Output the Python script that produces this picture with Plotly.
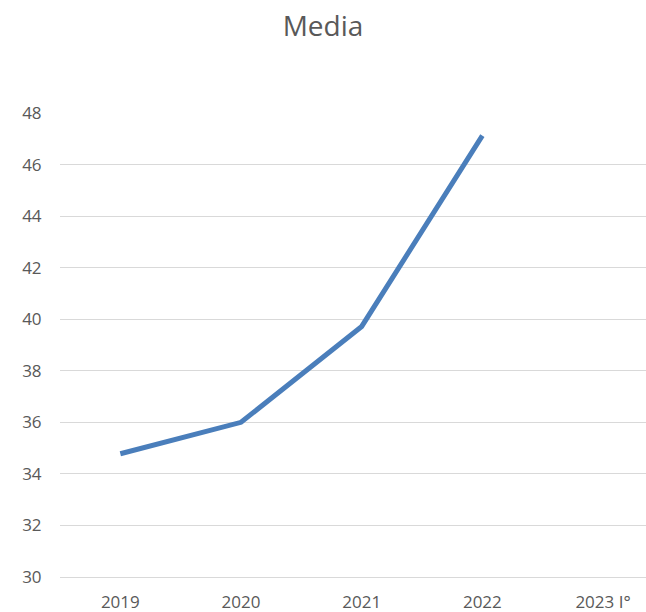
import plotly.graph_objects as go

categories = ["2019", "2020", "2021", "2022", "2023 I°"]
media_values = [34.78, 36.0, 39.72, 47.12, None]
y_ticks = [30, 32, 34, 36, 38, 40, 42, 44, 46, 48]

fig = go.Figure()
fig.add_trace(go.Scatter(
    x=categories, y=media_values, mode="lines",
    line=dict(color="#4a7ebb", width=5),
    connectgaps=False, hoverinfo="skip",
))

fig.update_layout(
    width=646, height=612,
    margin=dict(l=60, r=0, t=113, b=35),
    paper_bgcolor="white", plot_bgcolor="white",
    showlegend=False,
    font=dict(family="Open Sans", color="#595959", size=17),
    title=dict(text="Media", x=0.5, xanchor="center", xref="container",
               y=0.958, yanchor="middle", yref="container",
               font=dict(size=28, color="#595959", family="Open Sans")),
    xaxis=dict(
        type="category", categoryorder="array", categoryarray=categories,
        range=[-0.5, 4.356], automargin=False,
        showgrid=False, showline=True, linecolor="#d9d9d9", linewidth=1,
        ticks="outside", ticklen=10, tickcolor="rgba(0,0,0,0)",
        tickfont=dict(size=17, color="#595959"),
    ),
    yaxis=dict(
        range=[30, 48], tickvals=y_ticks, automargin=False,
        showgrid=True, gridcolor="#d9d9d9", gridwidth=1,
        zeroline=False, showline=False,
        ticks="outside", ticklen=14, tickcolor="rgba(0,0,0,0)",
        tickfont=dict(size=17, color="#595959"),
    ),
)

fig.write_html(
    "out.html",
    config={"displayModeBar": False, "staticPlot": True},
    post_script="document.body.style.margin='0';document.body.style.overflow='hidden';",
)
